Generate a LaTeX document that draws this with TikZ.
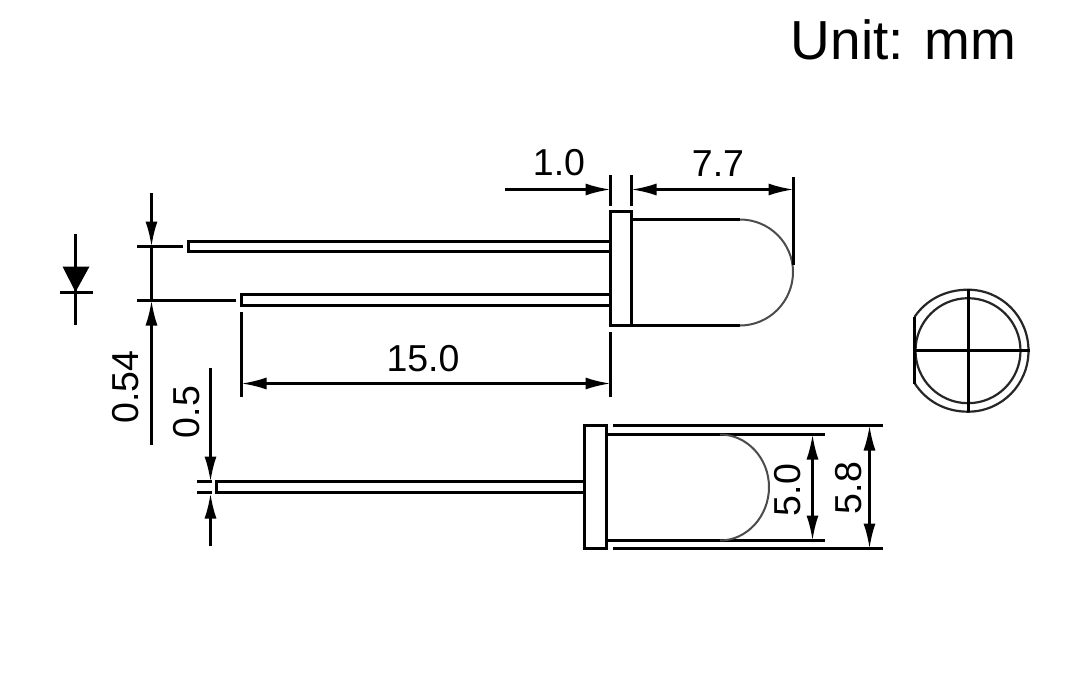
\documentclass[tikz,border=0pt]{standalone}
\usepackage{fontspec}
\setmainfont{Liberation Sans}
\usetikzlibrary{arrows.meta}
\tikzset{
  part/.style={draw=black,line width=2.5pt,line join=miter},
  thinarc/.style={draw=black!70,line width=2pt},
  viewline/.style={draw=black!85,line width=2.2pt},
  extline/.style={draw=black,line width=2.4pt},
  dimboth/.style={draw=black,line width=2.4pt,{Latex[length=25pt,width=12pt]}-{Latex[length=25pt,width=12pt]}},
  dimend/.style={draw=black,line width=2.4pt,-{Latex[length=25pt,width=12pt]}},
  dimtext/.style={inner sep=0pt,text=black,font=\fontsize{37.5}{37.5}\selectfont},
  unittext/.style={inner sep=0pt,text=black,font=\fontsize{55}{55}\selectfont}
}
\begin{document}
\begin{tikzpicture}[x=1pt,y=-1pt]
\useasboundingbox (0,0) rectangle (1080,675);
\fill[white] (0,0) rectangle (1080,675);
\node[unittext] (unit) at (903.5,39.5) {Unit: mm};
% top view LED
\draw[part] (610.5,211.5) rectangle (631.5,325.5);
\draw[part] (610.5,241.5) -- (188.5,241.5) -- (188.5,251.5) -- (610.5,251.5);
\draw[part] (610.5,294.5) -- (241.5,294.5) -- (241.5,305.5) -- (610.5,305.5);
\draw[part] (631.5,219.5) -- (740,219.5);
\draw[part] (631.5,325.5) -- (740,325.5);
\draw[thinarc] (740,219.5) .. controls (769.3,219.5) and (793,243) .. (793,272)
  .. controls (793,301.3) and (769.3,325.5) .. (740,325.5);
% 1.0 / 7.7
\draw[extline] (610.5,175) -- (610.5,206);
\draw[extline] (631.5,175) -- (631.5,206);
\draw[extline] (793.5,177) -- (793.5,265);
\draw[dimend] (505,189.5) -- (610.5,189.5);
\draw[dimboth] (631.5,189.5) -- (793.5,189.5);
\node[dimtext] (d10) at (559,163) {1.0};
\node[dimtext] (d77) at (718,164) {7.7};
% 15.0
\draw[extline] (241.5,312) -- (241.5,397);
\draw[extline] (610.5,332) -- (610.5,397);
\draw[dimboth] (241.5,383.5) -- (610.5,383.5);
\node[dimtext] (d150) at (423,359) {15.0};
% diode symbol
\draw[extline] (75.5,234) -- (75.5,325);
\fill[black] (62.5,266.5) -- (89.5,266.5) -- (75.5,292) -- cycle;
\draw[extline] (60,292.5) -- (93,292.5);
% 0.54
\draw[dimend] (151.5,193) -- (151.5,246.5);
\draw[dimend] (151.5,445) -- (151.5,300.5);
\draw[extline] (151.5,246.5) -- (151.5,300.5);
\draw[extline] (137,246.5) -- (183,246.5);
\draw[extline] (137,300.5) -- (236,300.5);
\node[dimtext,rotate=90] (d054) at (126,387) {0.54};
% side view LED
\draw[part] (584.5,425.5) rectangle (606.5,548.5);
\draw[part] (584.5,481.5) -- (216.5,481.5) -- (216.5,492.5) -- (584.5,492.5);
\draw[part] (608,434.5) -- (825,434.5);
\draw[part] (608,540.5) -- (825,540.5);
\draw[part] (613,425.5) -- (883,425.5);
\draw[part] (613,548.5) -- (883,548.5);
\draw[thinarc] (720,434.5) .. controls (747,434.5) and (769,458.3) .. (769,487)
  .. controls (769,516.2) and (747,540.5) .. (720,540.5);
\draw[dimboth] (812.5,434.5) -- (812.5,540.5);
\draw[dimboth] (869.5,425.5) -- (869.5,548.5);
\node[dimtext,rotate=90] (d50) at (788,490) {5.0};
\node[dimtext,rotate=90] (d58) at (849,488) {5.8};
% 0.5
\draw[dimend] (210.5,368) -- (210.5,481.5);
\draw[dimend] (210.5,546) -- (210.5,493.5);
\draw[extline] (197,481.5) -- (212,481.5);
\draw[extline] (197,492.5) -- (212,492.5);
\node[dimtext,rotate=90] (d05) at (187,412) {0.5};
% end view
\draw[viewline] (914.5,317) .. controls (926,300) and (945,289.7) .. (968,289.7)
  .. controls (1001.7,289.7) and (1028.5,317) .. (1028.5,350.7)
  .. controls (1028.5,384.4) and (1001.7,411.7) .. (968,411.7)
  .. controls (945,411.7) and (926,401) .. (914.5,383);
\draw[viewline] (968,350.7) circle[radius=52.5];
\draw[extline] (914.5,316.5) -- (914.5,383.5);
\draw[extline] (915,350.5) -- (1030,350.5);
\draw[extline] (968.5,289) -- (968.5,412);
\end{tikzpicture}
\end{document}
